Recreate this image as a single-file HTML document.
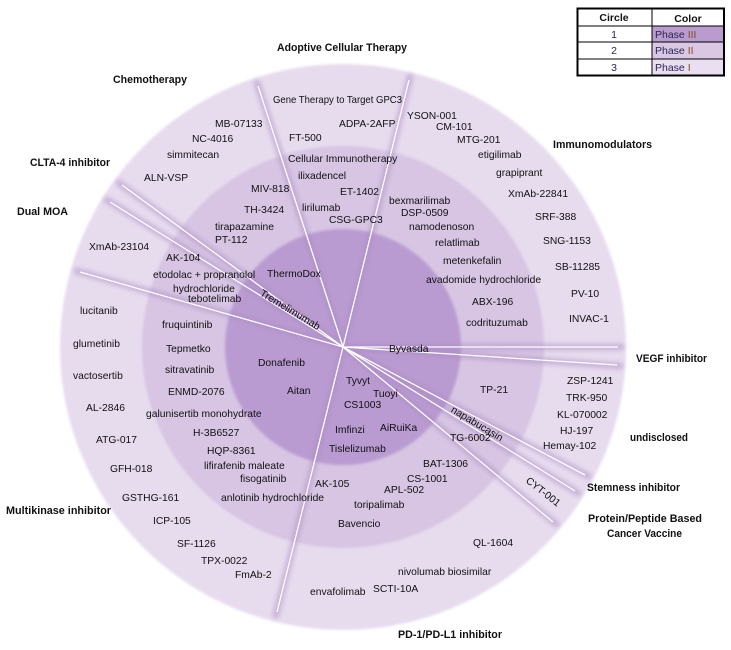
<!DOCTYPE html>
<html><head><meta charset="utf-8"><style>
html,body{margin:0;padding:0;background:#fff;}
svg{display:block;}
text{font-family:"Liberation Sans",Arial,sans-serif;font-size:10.3px;fill:#111;}
.b{font-weight:bold;font-size:10.6px;fill:#111;}
.lg{font-size:10.5px;fill:#2a2456;}
</style></head><body>
<svg width="731" height="650" viewBox="0 0 731 650" xmlns="http://www.w3.org/2000/svg">
<defs>
<filter id="soft" x="-5%" y="-5%" width="110%" height="110%"><feGaussianBlur stdDeviation="1.3"/></filter>
<filter id="sh" x="-20%" y="-20%" width="140%" height="140%"><feGaussianBlur stdDeviation="2"/></filter>
</defs>
<rect width="731" height="650" fill="#fff"/>
<!-- rings -->
<circle cx="343" cy="347" r="283" fill="#e7dbee" filter="url(#soft)"/>
<circle cx="343" cy="347" r="201" fill="#d7c5e3" filter="url(#soft)"/>
<circle cx="343" cy="347" r="118" fill="#ba9bd1" filter="url(#soft)"/>

<!-- line shadows -->
<g stroke="#a987c2" stroke-width="7" stroke-linecap="round" opacity="0.45" filter="url(#sh)">
<line x1="343" y1="347" x2="257" y2="83"/>
<line x1="343" y1="347" x2="410" y2="77"/>
<line x1="343" y1="347" x2="119" y2="183"/>
<line x1="343" y1="347" x2="107" y2="200"/>
<line x1="343" y1="347" x2="77" y2="271"/>
<line x1="343" y1="347" x2="621" y2="347"/>
<line x1="343" y1="347" x2="620" y2="366"/>
<line x1="343" y1="347" x2="588" y2="476"/>
<line x1="343" y1="347" x2="578" y2="493"/>
<line x1="343" y1="347" x2="556" y2="524"/>
<line x1="343" y1="347" x2="276" y2="615"/>
</g>
<!-- white lines -->
<g stroke="#ffffff" stroke-width="1.3">
<line x1="343" y1="347" x2="258" y2="86"/>
<line x1="343" y1="347" x2="409" y2="80"/>
<line x1="343" y1="347" x2="122" y2="185"/>
<line x1="343" y1="347" x2="110" y2="202"/>
<line x1="343" y1="347" x2="80" y2="272"/>
<line x1="343" y1="347" x2="618" y2="347"/>
<line x1="343" y1="347" x2="617" y2="365"/>
<line x1="343" y1="347" x2="585" y2="475"/>
<line x1="343" y1="347" x2="575" y2="491"/>
<line x1="343" y1="347" x2="553" y2="522"/>
<line x1="343" y1="347" x2="277" y2="612"/>
</g>

<!-- category labels -->
<text class="b" x="277" y="51" textLength="130" lengthAdjust="spacingAndGlyphs">Adoptive Cellular Therapy</text>
<text class="b" x="113" y="83" textLength="74" lengthAdjust="spacingAndGlyphs">Chemotherapy</text>
<text class="b" x="30" y="166" textLength="80" lengthAdjust="spacingAndGlyphs">CLTA-4 inhibitor</text>
<text class="b" x="17" y="215" textLength="51" lengthAdjust="spacingAndGlyphs">Dual MOA</text>
<text class="b" x="553" y="148" textLength="99" lengthAdjust="spacingAndGlyphs">Immunomodulators</text>
<text class="b" x="636" y="362" textLength="71" lengthAdjust="spacingAndGlyphs">VEGF inhibitor</text>
<text class="b" x="630" y="441" textLength="58" lengthAdjust="spacingAndGlyphs">undisclosed</text>
<text class="b" x="587" y="491" textLength="93" lengthAdjust="spacingAndGlyphs">Stemness inhibitor</text>
<text class="b" x="588" y="522" textLength="114" lengthAdjust="spacingAndGlyphs">Protein/Peptide Based</text>
<text class="b" x="607" y="537" textLength="75" lengthAdjust="spacingAndGlyphs">Cancer Vaccine</text>
<text class="b" x="6" y="514" textLength="105" lengthAdjust="spacingAndGlyphs">Multikinase inhibitor</text>
<text class="b" x="398" y="638" textLength="104" lengthAdjust="spacingAndGlyphs">PD-1/PD-L1 inhibitor</text>

<!-- drug names -->
<text x="273" y="103" textLength="129" lengthAdjust="spacingAndGlyphs">Gene Therapy to Target GPC3</text>
<text x="215" y="127">MB-07133</text>
<text x="339" y="127">ADPA-2AFP</text>
<text x="192" y="142">NC-4016</text>
<text x="289" y="141">FT-500</text>
<text x="167" y="158">simmitecan</text>
<text x="288" y="162">Cellular Immunotherapy</text>
<text x="144" y="181">ALN-VSP</text>
<text x="298" y="179">ilixadencel</text>
<text x="251" y="192">MIV-818</text>
<text x="340" y="195">ET-1402</text>
<text x="244" y="213">TH-3424</text>
<text x="302" y="211">lirilumab</text>
<text x="329" y="223">CSG-GPC3</text>
<text x="215" y="230">tirapazamine</text>
<text x="215" y="243">PT-112</text>
<text x="89" y="250">XmAb-23104</text>
<text x="166" y="261">AK-104</text>
<text x="153" y="278">etodolac + propranolol</text>
<text x="267" y="277">ThermoDox</text>
<text x="173" y="292">hydrochloride</text>
<text x="188" y="302">tebotelimab</text>
<text x="80" y="314">lucitanib</text>
<text x="162" y="328">fruquintinib</text>
<text x="407" y="119">YSON-001</text>
<text x="436" y="130">CM-101</text>
<text x="457" y="143">MTG-201</text>
<text x="478" y="158">etigilimab</text>
<text x="496" y="176">grapiprant</text>
<text x="508" y="197">XmAb-22841</text>
<text x="389" y="204">bexmarilimab</text>
<text x="401" y="216">DSP-0509</text>
<text x="535" y="220">SRF-388</text>
<text x="409" y="230">namodenoson</text>
<text x="435" y="246">relatlimab</text>
<text x="543" y="244">SNG-1153</text>
<text x="443" y="264">metenkefalin</text>
<text x="555" y="270">SB-11285</text>
<text x="426" y="283">avadomide hydrochloride</text>
<text x="571" y="297">PV-10</text>
<text x="472" y="305">ABX-196</text>
<text x="569" y="322">INVAC-1</text>
<text x="466" y="326">codrituzumab</text>
<text x="73" y="347">glumetinib</text>
<text x="166" y="352">Tepmetko</text>
<text x="258" y="366">Donafenib</text>
<text x="165" y="373">sitravatinib</text>
<text x="73" y="379">vactosertib</text>
<text x="389" y="352">Byvasda</text>
<text x="346" y="384">Tyvyt</text>
<text x="168" y="395">ENMD-2076</text>
<text x="287" y="394">Aitan</text>
<text x="373" y="397">Tuoyi</text>
<text x="344" y="408">CS1003</text>
<text x="86" y="411">AL-2846</text>
<text x="146" y="417">galunisertib monohydrate</text>
<text x="380" y="431">AiRuiKa</text>
<text x="335" y="433">Imfinzi</text>
<text x="193" y="436">H-3B6527</text>
<text x="96" y="443">ATG-017</text>
<text x="329" y="452">Tislelizumab</text>
<text x="207" y="454">HQP-8361</text>
<text x="204" y="469">lifirafenib maleate</text>
<text x="110" y="472">GFH-018</text>
<text x="240" y="482">fisogatinib</text>
<text x="315" y="487">AK-105</text>
<text x="122" y="501">GSTHG-161</text>
<text x="221" y="501">anlotinib hydrochloride</text>
<text x="153" y="524">ICP-105</text>
<text x="177" y="547">SF-1126</text>
<text x="201" y="564">TPX-0022</text>
<text x="235" y="578">FmAb-2</text>
<text x="310" y="595">envafolimab</text>
<text x="567" y="384">ZSP-1241</text>
<text x="480" y="393">TP-21</text>
<text x="566" y="401">TRK-950</text>
<text x="557" y="418">KL-070002</text>
<text x="560" y="434">HJ-197</text>
<text x="450" y="441">TG-6002</text>
<text x="543" y="449">Hemay-102</text>
<text x="423" y="467">BAT-1306</text>
<text x="407" y="482">CS-1001</text>
<text x="384" y="493">APL-502</text>
<text x="354" y="508">toripalimab</text>
<text x="338" y="527">Bavencio</text>
<text x="473" y="546">QL-1604</text>
<text x="398" y="575">nivolumab biosimilar</text>
<text x="373" y="592">SCTI-10A</text>

<!-- rotated labels -->
<text x="290" y="313" text-anchor="middle" transform="rotate(31 290 310)">Tremelimumab</text>
<text x="477" y="427" text-anchor="middle" transform="rotate(31 477 424)">napabucasin</text>
<text x="543" y="495" text-anchor="middle" transform="rotate(38 543 492)">CYT-001</text>

<!-- legend -->
<rect x="652" y="26" width="72" height="16" fill="#b99ccd"/>
<rect x="652" y="42" width="72" height="17" fill="#d9c7e4"/>
<rect x="652" y="59" width="72" height="16" fill="#eadff0"/>
<g stroke="#000" fill="none">
<rect x="577.5" y="8.5" width="146.5" height="67" stroke-width="2"/>
<line x1="577" y1="26" x2="724" y2="26" stroke-width="1"/>
<line x1="577" y1="42" x2="724" y2="42" stroke-width="1"/>
<line x1="577" y1="59" x2="724" y2="59" stroke-width="1"/>
<line x1="652" y1="8" x2="652" y2="76" stroke-width="1"/>
</g>
<text class="b" x="614" y="21" text-anchor="middle" style="font-size:10.5px">Circle</text>
<text class="b" x="688" y="22" text-anchor="middle" style="font-size:10.5px">Color</text>
<text class="lg" x="614" y="38" text-anchor="middle">1</text>
<text class="lg" x="614" y="54" text-anchor="middle">2</text>
<text class="lg" x="614" y="71" text-anchor="middle">3</text>
<text class="lg" x="655" y="38">Phase <tspan fill="#8a4a1e">III</tspan></text>
<text class="lg" x="655" y="54">Phase <tspan fill="#8a4a1e">II</tspan></text>
<text class="lg" x="655" y="71">Phase <tspan fill="#8a4a1e">I</tspan></text>
</svg>
</body></html>
